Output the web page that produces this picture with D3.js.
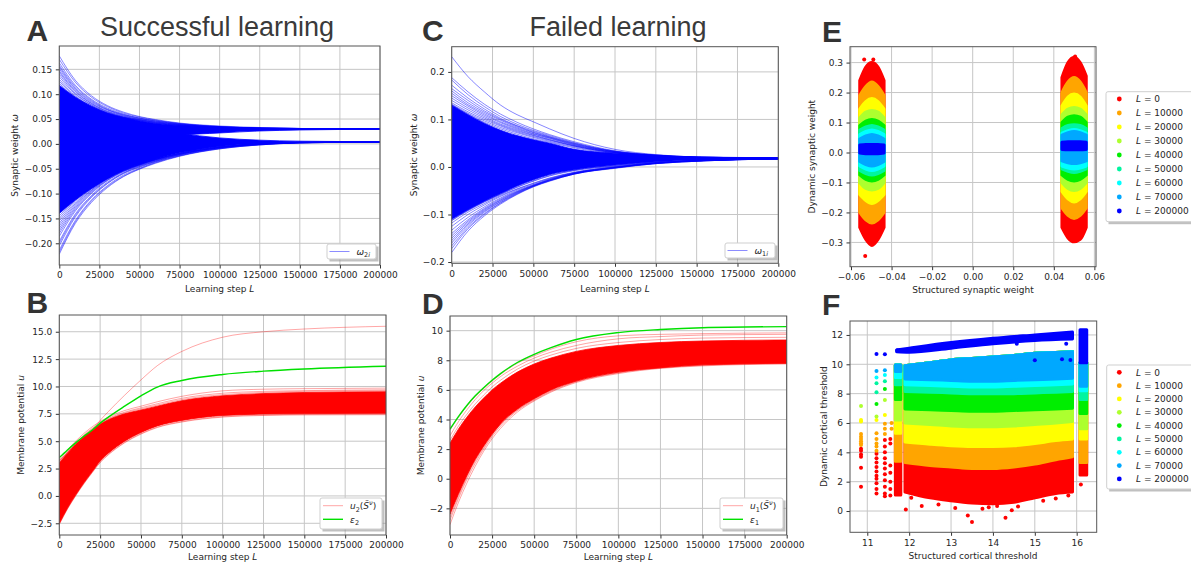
<!DOCTYPE html>
<html>
<head>
<meta charset="utf-8">
<script src="https://cdn.jsdelivr.net/npm/d3@7"></script>
<style>
body { margin: 0; background: #fff; }
svg { display: block; }
</style>
</head>
<body>
<svg id="fig" width="1191" height="562"></svg>
<script>
(function (d3) {
    'use strict';

    // ---------- data ----------
    // learning steps at which the curves were sampled
    var stepsW = [0, 10000, 20000, 30000, 40000, 50000, 60000, 75000, 100000, 125000, 150000, 200000];
    var stepsU = [0, 5000, 10000, 15000, 20000, 25000, 30000, 40000, 50000, 60000, 75000, 100000, 125000, 150000, 200000];

    // A: omega_2i, dense core (two groups) and outer fringe lines
    var wA_upperTop = [0.118, 0.094, 0.076, 0.062, 0.053, 0.046, 0.041, 0.037, 0.034, 0.032, 0.031, 0.0303];
    var wA_upperBot = [-0.1, -0.07, -0.045, -0.025, -0.01, 0.0, 0.008, 0.017, 0.022, 0.026, 0.028, 0.0295];
    var wA_lowerTop = [0.09, 0.075, 0.06, 0.048, 0.039, 0.032, 0.027, 0.021, 0.012, 0.0075, 0.0055, 0.0045];
    var wA_lowerBot = [-0.14, -0.113, -0.09, -0.07, -0.053, -0.041, -0.031, -0.018, -0.005, 0.0005, 0.0028, 0.0037];
    var wA_lines = [
        [0.177, 0.128, 0.097, 0.077, 0.064, 0.055, 0.049, 0.042, 0.036, 0.033, 0.031, 0.0303],
        [0.17, 0.124, 0.094, 0.075, 0.062, 0.054, 0.048, 0.041, 0.035, 0.032, 0.031, 0.0303],
        [0.163, 0.118, 0.09, 0.072, 0.06, 0.052, 0.047, 0.041, 0.035, 0.032, 0.031, 0.0302],
        [0.158, 0.115, 0.088, 0.07, 0.059, 0.052, 0.046, 0.04, 0.034, 0.032, 0.031, 0.0302],
        [0.155, 0.112, 0.086, 0.069, 0.058, 0.051, 0.046, 0.04, 0.034, 0.032, 0.031, 0.0302],
        [0.151, 0.11, 0.084, 0.068, 0.057, 0.05, 0.045, 0.039, 0.034, 0.031, 0.0305, 0.0302],
        [0.147, 0.107, 0.082, 0.066, 0.056, 0.049, 0.044, 0.039, 0.034, 0.031, 0.0305, 0.0302],
        [0.144, 0.105, 0.081, 0.065, 0.055, 0.049, 0.044, 0.039, 0.034, 0.031, 0.0305, 0.0302],
        [0.14, 0.102, 0.079, 0.064, 0.054, 0.048, 0.043, 0.038, 0.033, 0.031, 0.0305, 0.0302],
        [0.135, 0.1, 0.078, 0.063, 0.054, 0.048, 0.043, 0.038, 0.033, 0.031, 0.0303, 0.0302],
        [0.13, 0.097, 0.076, 0.062, 0.053, 0.047, 0.042, 0.037, 0.033, 0.031, 0.0303, 0.0302],
        [0.126, 0.095, 0.075, 0.061, 0.053, 0.047, 0.042, 0.037, 0.033, 0.031, 0.0303, 0.0302],
        [0.122, 0.093, 0.073, 0.06, 0.052, 0.046, 0.041, 0.037, 0.033, 0.031, 0.0303, 0.0302],
        [-0.222, -0.16, -0.118, -0.088, -0.066, -0.051, -0.039, -0.025, -0.01, -0.002, 0.002, 0.0038],
        [-0.218, -0.157, -0.115, -0.086, -0.065, -0.05, -0.038, -0.024, -0.01, -0.002, 0.002, 0.0038],
        [-0.214, -0.154, -0.113, -0.084, -0.063, -0.049, -0.037, -0.024, -0.009, -0.002, 0.002, 0.0038],
        [-0.205, -0.147, -0.108, -0.08, -0.06, -0.047, -0.036, -0.023, -0.009, -0.001, 0.002, 0.0038],
        [-0.2, -0.144, -0.106, -0.079, -0.059, -0.046, -0.035, -0.022, -0.008, -0.001, 0.0025, 0.0038],
        [-0.196, -0.141, -0.104, -0.077, -0.058, -0.045, -0.035, -0.022, -0.008, -0.001, 0.0025, 0.0038],
        [-0.186, -0.135, -0.1, -0.074, -0.056, -0.044, -0.034, -0.021, -0.008, -0.001, 0.0025, 0.0038],
        [-0.18, -0.132, -0.098, -0.073, -0.055, -0.043, -0.033, -0.021, -0.007, 0, 0.0025, 0.0038],
        [-0.175, -0.129, -0.096, -0.072, -0.055, -0.043, -0.033, -0.021, -0.007, 0, 0.0025, 0.0038],
        [-0.17, -0.126, -0.094, -0.071, -0.054, -0.042, -0.032, -0.02, -0.007, 0, 0.003, 0.0038],
        [-0.165, -0.123, -0.093, -0.07, -0.054, -0.042, -0.032, -0.02, -0.007, 0, 0.003, 0.0038],
        [-0.16, -0.12, -0.091, -0.069, -0.053, -0.041, -0.031, -0.019, -0.006, 0, 0.003, 0.0038],
        [-0.155, -0.117, -0.09, -0.069, -0.053, -0.041, -0.031, -0.019, -0.006, 0, 0.003, 0.0038],
        [-0.15, -0.114, -0.089, -0.068, -0.052, -0.041, -0.031, -0.019, -0.006, 0, 0.003, 0.0038],
        [-0.145, -0.112, -0.088, -0.068, -0.052, -0.041, -0.031, -0.019, -0.006, 0, 0.003, 0.0038]
    ];

    // C: omega_1i
    var wC_coreTop = [0.13, 0.11, 0.092, 0.077, 0.066, 0.057, 0.05, 0.037, 0.029, 0.024, 0.021, 0.0195];
    var wC_coreBot = [-0.11, -0.09, -0.072, -0.056, -0.04, -0.027, -0.016, -0.006, 0.004, 0.011, 0.014, 0.0165];
    var wC_lines = [
        [0.232, 0.19, 0.158, 0.13, 0.11, 0.095, 0.08, 0.06, 0.037, 0.026, 0.021, 0.0185],
        [0.188, 0.158, 0.132, 0.111, 0.094, 0.08, 0.068, 0.053, 0.034, 0.025, 0.021, 0.0185],
        [0.183, 0.152, 0.127, 0.106, 0.09, 0.077, 0.066, 0.051, 0.033, 0.025, 0.021, 0.0185],
        [0.172, 0.145, 0.122, 0.102, 0.087, 0.075, 0.064, 0.05, 0.033, 0.025, 0.021, 0.0185],
        [0.165, 0.14, 0.118, 0.1, 0.086, 0.073, 0.063, 0.049, 0.032, 0.024, 0.02, 0.0185],
        [0.16, 0.135, 0.115, 0.098, 0.084, 0.072, 0.062, 0.048, 0.032, 0.024, 0.02, 0.0185],
        [0.155, 0.131, 0.112, 0.095, 0.082, 0.07, 0.061, 0.047, 0.032, 0.024, 0.02, 0.0185],
        [0.15, 0.128, 0.109, 0.093, 0.08, 0.069, 0.06, 0.046, 0.031, 0.024, 0.02, 0.0185],
        [0.145, 0.124, 0.106, 0.09, 0.078, 0.067, 0.058, 0.045, 0.031, 0.024, 0.02, 0.0185],
        [0.14, 0.12, 0.103, 0.088, 0.076, 0.066, 0.057, 0.044, 0.03, 0.023, 0.02, 0.0185],
        [0.135, 0.116, 0.1, 0.086, 0.074, 0.064, 0.056, 0.044, 0.03, 0.023, 0.02, 0.0185],
        [0.132, 0.113, 0.097, 0.083, 0.072, 0.062, 0.054, 0.042, 0.03, 0.023, 0.02, 0.0185],
        [0.131, 0.111, 0.094, 0.08, 0.069, 0.059, 0.052, 0.04, 0.029, 0.023, 0.02, 0.0185],
        [-0.18, -0.135, -0.103, -0.078, -0.058, -0.042, -0.03, -0.015, -0.003, 0.007, 0.012, 0.017],
        [-0.172, -0.13, -0.1, -0.076, -0.057, -0.041, -0.029, -0.015, -0.002, 0.007, 0.012, 0.017],
        [-0.166, -0.127, -0.098, -0.075, -0.056, -0.041, -0.029, -0.015, -0.002, 0.007, 0.012, 0.017],
        [-0.16, -0.123, -0.095, -0.073, -0.055, -0.04, -0.028, -0.014, -0.002, 0.008, 0.013, 0.017],
        [-0.155, -0.12, -0.093, -0.072, -0.054, -0.04, -0.028, -0.014, -0.001, 0.008, 0.013, 0.017],
        [-0.15, -0.117, -0.091, -0.07, -0.053, -0.039, -0.027, -0.014, -0.001, 0.008, 0.013, 0.017],
        [-0.145, -0.114, -0.089, -0.069, -0.052, -0.039, -0.027, -0.013, -0.001, 0.008, 0.013, 0.017],
        [-0.14, -0.111, -0.087, -0.067, -0.051, -0.038, -0.026, -0.013, -0.001, 0.008, 0.013, 0.017],
        [-0.133, -0.106, -0.084, -0.065, -0.049, -0.037, -0.025, -0.012, 0, 0.009, 0.013, 0.017],
        [-0.125, -0.1, -0.08, -0.062, -0.047, -0.035, -0.024, -0.012, 0, 0.009, 0.013, 0.017],
        [-0.118, -0.095, -0.077, -0.06, -0.046, -0.034, -0.023, -0.011, 0.001, 0.009, 0.013, 0.017],
        [-0.113, -0.092, -0.074, -0.058, -0.043, -0.03, -0.019, -0.008, 0.002, 0.01, 0.013, 0.017],
        [-0.112, -0.091, -0.073, -0.057, -0.042, -0.029, -0.018, -0.007, 0.003, 0.01, 0.014, 0.017]
    ];

    // B: u_2 and epsilon_2
    var uB_coreTop = [3.0, 3.9, 4.7, 5.4, 6.0, 6.55, 6.95, 7.5, 7.85, 8.2, 8.7, 9.15, 9.35, 9.45, 9.52];
    var uB_coreBot = [-2.5, -1.1, 0.1, 1.2, 2.2, 3.2, 3.9, 5.0, 5.8, 6.4, 6.9, 7.35, 7.48, 7.52, 7.55];
    var uB_lines = [
        [3.3, 4.2, 5.0, 5.7, 6.3, 6.8, 7.2, 7.8, 8.2, 8.6, 9.1, 9.6, 9.75, 9.8, 9.85],
        [3.2, 4.05, 4.85, 5.55, 6.15, 6.68, 7.08, 7.65, 8.05, 8.42, 8.92, 9.38, 9.55, 9.62, 9.7],
        [3.1, 3.98, 4.78, 5.48, 6.08, 6.6, 7.0, 7.58, 7.95, 8.3, 8.8, 9.25, 9.45, 9.55, 9.62],
        [-2.6, -1.2, 0.0, 1.1, 2.1, 3.05, 3.75, 4.85, 5.65, 6.25, 6.75, 7.2, 7.35, 7.4, 7.42],
        [-2.55, -1.15, 0.05, 1.15, 2.15, 3.1, 3.8, 4.9, 5.7, 6.3, 6.8, 7.25, 7.4, 7.45, 7.48],
        [-2.45, -1.05, 0.15, 1.25, 2.25, 3.25, 3.95, 5.05, 5.85, 6.45, 6.95, 7.4, 7.52, 7.56, 7.6]
    ];
    var uB_outlier = [3.2, 3.95, 4.7, 5.35, 6.0, 6.9, 7.7, 9.2, 10.6, 11.9, 13.2, 14.5, 15.0, 15.25, 15.5];
    var eps2 = [3.5, 4.2, 4.85, 5.45, 6.0, 6.65, 7.2, 8.2, 9.15, 9.95, 10.55, 11.1, 11.4, 11.6, 11.85];

    // D: u_1 and epsilon_1
    var uD_coreTop = [2.4, 3.35, 4.15, 4.85, 5.45, 6.0, 6.45, 7.2, 7.75, 8.15, 8.6, 9.0, 9.2, 9.3, 9.37];
    var uD_coreBot = [-2.4, -1.05, 0.2, 1.3, 2.2, 3.0, 3.7, 4.7, 5.4, 6.0, 6.6, 7.2, 7.5, 7.7, 7.8];
    var uD_lines = [
        [3.3, 4.15, 4.9, 5.55, 6.1, 6.6, 7.05, 7.8, 8.3, 8.75, 9.25, 9.65, 9.75, 9.8, 9.85],
        [2.9, 3.85, 4.65, 5.35, 5.95, 6.45, 6.9, 7.6, 8.15, 8.55, 9.0, 9.45, 9.6, 9.7, 9.75],
        [2.6, 3.55, 4.35, 5.05, 5.65, 6.2, 6.65, 7.4, 7.95, 8.35, 8.8, 9.2, 9.4, 9.5, 9.55],
        [-3.1, -1.6, -0.3, 0.85, 1.85, 2.7, 3.4, 4.5, 5.25, 5.85, 6.5, 7.1, 7.45, 7.62, 7.75],
        [-2.8, -1.35, -0.05, 1.05, 2.0, 2.85, 3.55, 4.6, 5.3, 5.9, 6.55, 7.15, 7.48, 7.66, 7.78],
        [-2.6, -1.2, 0.1, 1.2, 2.1, 2.95, 3.65, 4.65, 5.35, 5.95, 6.58, 7.18, 7.5, 7.68, 7.8]
    ];
    var eps1 = [3.35, 4.2, 4.95, 5.6, 6.15, 6.65, 7.1, 7.85, 8.4, 8.85, 9.4, 9.87, 10.08, 10.2, 10.27];

    // E / F: snapshot layers
    var layerSteps = [0, 10000, 20000, 30000, 40000, 50000, 60000, 70000, 200000];
    var layerColors = ['#ff0000', '#ffa500', '#ffff00', '#adff2f', '#00ee00', '#00f5a0', '#00ffff', '#00a8ff', '#0000ff'];

    // E: clusters at +-0.05 structured weight, edges sampled across the cluster width
    var eDx = [-0.006, -0.003, 0, 0.003, 0.006];
    var eLeftCenter = -0.0497, eRightCenter = 0.05;
    var eLeftTop = [
        [0.24, 0.285, 0.3, 0.285, 0.24], [0.19, 0.22, 0.235, 0.22, 0.19], [0.145, 0.17, 0.18, 0.17, 0.145],
        [0.115, 0.135, 0.14, 0.135, 0.115], [0.09, 0.105, 0.11, 0.105, 0.09], [0.075, 0.085, 0.09, 0.085, 0.075],
        [0.06, 0.07, 0.075, 0.07, 0.06], [0.045, 0.055, 0.06, 0.055, 0.045], [0.025, 0.027, 0.027, 0.027, 0.025]
    ];
    var eLeftBot = [
        [-0.25, -0.29, -0.31, -0.29, -0.25], [-0.2, -0.225, -0.235, -0.225, -0.2], [-0.14, -0.16, -0.17, -0.16, -0.14],
        [-0.1, -0.12, -0.125, -0.12, -0.1], [-0.075, -0.09, -0.095, -0.09, -0.075], [-0.06, -0.07, -0.075, -0.07, -0.06],
        [-0.045, -0.055, -0.06, -0.055, -0.045], [-0.03, -0.04, -0.045, -0.04, -0.03], [-0.002, -0.004, -0.004, -0.004, -0.002]
    ];
    var eRightTop = [
        [0.25, 0.3, 0.318, 0.3, 0.255], [0.2, 0.235, 0.25, 0.235, 0.2], [0.155, 0.185, 0.195, 0.185, 0.155],
        [0.125, 0.145, 0.15, 0.145, 0.125], [0.1, 0.118, 0.123, 0.118, 0.1], [0.08, 0.09, 0.093, 0.09, 0.08],
        [0.065, 0.073, 0.077, 0.073, 0.065], [0.058, 0.066, 0.07, 0.066, 0.058], [0.034, 0.036, 0.036, 0.036, 0.034]
    ];
    var eRightBot = [
        [-0.25, -0.285, -0.298, -0.29, -0.25], [-0.185, -0.21, -0.22, -0.21, -0.185], [-0.13, -0.155, -0.165, -0.155, -0.13],
        [-0.1, -0.12, -0.127, -0.12, -0.1], [-0.075, -0.09, -0.095, -0.09, -0.075], [-0.055, -0.063, -0.067, -0.063, -0.055],
        [-0.045, -0.052, -0.055, -0.052, -0.045], [-0.028, -0.034, -0.037, -0.034, -0.028], [0.01, 0.009, 0.009, 0.009, 0.01]
    ];
    var eOutliers = [[-0.053, -0.345, 0], [-0.0535, 0.31, 0], [-0.049, 0.31, 0], [0.0505, 0.32, 0]];

    // F: main block, edges sampled along the structured threshold
    var fMainX = [11.9, 12.5, 13, 13.5, 14, 14.5, 15, 15.5, 15.9];
    var fMainBot = [
        [1.3, 0.9, 0.7, 0.55, 0.5, 0.6, 0.9, 1.2, 1.3],
        [3.3, 3.1, 3.0, 2.9, 2.9, 3.0, 3.2, 3.5, 3.7],
        [4.7, 4.55, 4.45, 4.4, 4.4, 4.45, 4.6, 4.8, 4.9],
        [6.0, 5.9, 5.8, 5.75, 5.75, 5.8, 5.9, 6.0, 6.1],
        [6.95, 6.9, 6.85, 6.8, 6.8, 6.85, 6.9, 6.95, 7.0],
        [8.15, 8.1, 8.05, 8.0, 8.0, 8.0, 8.05, 8.1, 8.15],
        [8.6, 8.55, 8.5, 8.45, 8.45, 8.5, 8.55, 8.6, 8.65],
        [9.0, 8.95, 8.9, 8.85, 8.85, 8.9, 8.95, 9.0, 9.05]
    ];
    var fMainTop = [9.9, 10.1, 10.3, 10.4, 10.5, 10.6, 10.75, 10.8, 10.85];
    var fBlueX = [11.7, 12, 13, 14, 15, 15.9];
    var fBlueTop = [10.98, 11.1, 11.48, 11.77, 12.0, 12.2];
    var fBlueBot = [10.85, 10.82, 11.1, 11.4, 11.62, 11.72];
    var fRightX = [16.08, 16.24];
    var fRightBot = [2.45, 3.3, 4.9, 5.6, 6.65, 7.6, 8.2, 8.5];
    var fRightTop = 10.1;
    var fRightBlue = [10.1, 12.35];
    var fColX = [11.67, 11.8];
    var fColBot = [1.1, 3.4, 5.3, 6.2, 7.6, 8.6, 9.1, 9.5];
    var fColTop = 9.95;
    var fPoints = [
        [10.85, 1.66, 0], [10.85, 2.95, 0], [10.85, 3.7, 0], [10.85, 3.85, 0], [10.85, 4.1, 0], [10.85, 4.25, 0],
        [10.85, 4.5, 1], [10.85, 4.62, 1], [10.85, 4.75, 1], [10.85, 4.9, 1], [10.85, 5.06, 1], [10.85, 5.25, 1],
        [10.85, 6.1, 2], [10.85, 6.2, 2], [10.85, 7.16, 3],
        [11.22, 1.2, 0], [11.22, 1.5, 0], [11.22, 1.9, 0], [11.22, 2.2, 0], [11.22, 2.4, 0], [11.22, 2.7, 0],
        [11.22, 3.0, 0], [11.22, 3.3, 0], [11.22, 3.6, 0], [11.22, 3.9, 0], [11.22, 4.1, 1], [11.22, 4.4, 1],
        [11.22, 4.6, 1], [11.22, 4.9, 1], [11.22, 5.3, 1], [11.22, 6.2, 2], [11.22, 6.45, 3], [11.22, 7.3, 4],
        [11.22, 8.1, 5], [11.22, 8.7, 5], [11.22, 9.1, 6], [11.22, 9.55, 7], [11.22, 10.7, 8],
        [11.42, 1.0, 0], [11.42, 1.2, 0], [11.42, 1.65, 0], [11.42, 2.1, 0], [11.42, 2.5, 0], [11.42, 2.9, 0],
        [11.42, 3.25, 0], [11.42, 3.6, 0], [11.42, 4.0, 0], [11.42, 4.4, 0], [11.42, 4.84, 0], [11.42, 5.25, 1],
        [11.42, 5.6, 1], [11.42, 5.95, 1], [11.42, 6.55, 2], [11.42, 7.57, 3], [11.42, 8.32, 4], [11.42, 8.85, 5],
        [11.42, 9.27, 6], [11.42, 9.6, 7], [11.42, 10.68, 8],
        [11.55, 1.05, 0], [11.55, 1.5, 0], [11.55, 2.0, 0], [11.55, 2.6, 0], [11.55, 3.1, 0], [11.55, 4.6, 0],
        [11.55, 4.9, 0], [11.58, 5.6, 1], [11.58, 6.0, 1], [11.72, 10.95, 8], [11.78, 10.97, 8],
        [11.92, 0.1, 0], [12.05, 0.9, 0], [12.3, 0.35, 0], [12.7, 0.45, 0], [13.1, 0.2, 0], [13.4, -0.3, 0],
        [13.5, -0.75, 0], [13.75, 0.15, 0], [13.9, 0.25, 0], [14.1, 0.35, 0], [14.3, -0.45, 0], [14.45, 0.05, 0],
        [14.6, 0.3, 0], [15.2, 0.7, 0], [15.5, 0.85, 0], [15.8, 1.05, 0], [16.1, 1.8, 0],
        [14.57, 11.4, 8], [15.0, 10.28, 8], [15.65, 10.35, 8], [15.85, 10.3, 8], [15.75, 11.4, 8], [15.3, 11.8, 8]
    ];

    // ticks
    var xTicksL = [0, 25000, 50000, 75000, 100000, 125000, 150000, 175000, 200000];
    var yTicksA = [-0.2, -0.15, -0.1, -0.05, 0, 0.05, 0.1, 0.15];
    var yTicksB = [-2.5, 0, 2.5, 5, 7.5, 10, 12.5, 15];
    var yTicksC = [-0.2, -0.1, 0, 0.1, 0.2];
    var yTicksD = [-2, 0, 2, 4, 6, 8, 10];
    var xTicksE = [-0.06, -0.04, -0.02, 0, 0.02, 0.04, 0.06];
    var yTicksE = [-0.3, -0.2, -0.1, 0, 0.1, 0.2, 0.3];
    var xTicksF = [11, 12, 13, 14, 15, 16];
    var yTicksF = [0, 2, 4, 6, 8, 10, 12];

    // ---------- drawing ----------
    var FONT = 'DejaVu Sans, Verdana, sans-serif';
    var svg = d3.select('#fig');
    var defs = svg.append('defs');

    function rich(text, parts, size) {
        var shift = 0;
        parts.forEach(function (p) {
            var t = text.append('tspan').text(p.t);
            var target = p.sub ? 2.6 : (p.sup ? -3.6 : 0);
            if (target !== shift) {
                t.attr('dy', target - shift);
                shift = target;
            }
            if (p.i) { t.attr('font-style', 'italic'); }
            if (p.sub || p.sup) { t.attr('font-size', size * 0.72); }
        });
    }

    function makePanel(id, box, xDom, yDom, xTicks, yTicks, xFmt, yFmt) {
        var x = d3.scaleLinear().domain(xDom).range([box.l, box.r]);
        var y = d3.scaleLinear().domain(yDom).range([box.b, box.t]);
        var root = svg.append('g');
        var grid = root.append('g').attr('stroke', '#c6c6c6').attr('stroke-width', 1);
        grid.selectAll('.gx').data(xTicks).join('line').attr('class', 'gx')
            .attr('x1', x).attr('x2', x).attr('y1', box.t).attr('y2', box.b);
        grid.selectAll('.gy').data(yTicks).join('line').attr('class', 'gy')
            .attr('y1', y).attr('y2', y).attr('x1', box.l).attr('x2', box.r);

        defs.append('clipPath').attr('id', 'clip-' + id).append('rect')
            .attr('x', box.l).attr('y', box.t).attr('width', box.r - box.l).attr('height', box.b - box.t);
        var plot = root.append('g').attr('clip-path', 'url(#clip-' + id + ')');

        var ax = root.append('g');
        ax.append('g').attr('transform', 'translate(0,' + box.b + ')')
            .call(d3.axisBottom(x).tickValues(xTicks).tickFormat(xFmt).tickSize(3.5).tickPadding(3.5));
        ax.append('g').attr('transform', 'translate(' + box.l + ',0)')
            .call(d3.axisLeft(y).tickValues(yTicks).tickFormat(yFmt).tickSize(3.5).tickPadding(3.5));
        ax.selectAll('.domain').remove();
        ax.selectAll('text').attr('font-family', FONT).attr('font-size', 9).attr('fill', '#262626');
        ax.selectAll('.tick line').attr('stroke', '#333');
        ax.append('rect').attr('x', box.l).attr('y', box.t)
            .attr('width', box.r - box.l).attr('height', box.b - box.t)
            .attr('fill', 'none').attr('stroke', '#555').attr('stroke-width', 1);
        var over = root.append('g');
        return { x: x, y: y, plot: plot, over: over, box: box };
    }

    function xLabel(p, cx, by, parts) {
        var t = p.over.append('text').attr('x', cx).attr('y', by).attr('text-anchor', 'middle')
            .attr('font-family', FONT).attr('font-size', 9).attr('fill', '#262626');
        rich(t, parts, 9);
    }

    function yLabel(p, cx, parts) {
        var cy = (p.box.t + p.box.b) / 2;
        var t = p.over.append('text').attr('transform', 'translate(' + (cx + 3.2) + ',' + cy + ') rotate(-90)')
            .attr('text-anchor', 'middle').attr('font-family', FONT).attr('font-size', 9).attr('fill', '#262626');
        rich(t, parts, 9);
    }

    function letter(x0, y0, s) {
        svg.append('text').attr('x', x0).attr('y', y0).text(s)
            .attr('font-family', 'Liberation Sans, Arial, sans-serif').attr('font-weight', 'bold')
            .attr('font-size', 30).attr('fill', '#333');
    }

    function title(cx, y0, s) {
        svg.append('text').attr('x', cx).attr('y', y0).text(s).attr('text-anchor', 'middle')
            .attr('font-family', 'Liberation Sans, Arial, sans-serif').attr('font-size', 27).attr('fill', '#3a3a3a');
    }

    function legendBox(g, x0, y0, w, h) {
        g.append('rect').attr('x', x0 + 2.5).attr('y', y0 + 2.5).attr('width', w).attr('height', h)
            .attr('fill', '#8c8c8c').attr('opacity', 0.55);
        g.append('rect').attr('x', x0).attr('y', y0).attr('width', w).attr('height', h).attr('rx', 2)
            .attr('fill', '#fff').attr('stroke', '#cfcfcf').attr('stroke-width', 1);
    }

    function legendLine(g, x0, y0, color, opacity, width, parts) {
        g.append('line').attr('x1', x0).attr('x2', x0 + 20).attr('y1', y0).attr('y2', y0)
            .attr('stroke', color).attr('stroke-opacity', opacity).attr('stroke-width', width);
        var t = g.append('text').attr('x', x0 + 27).attr('y', y0 + 3.2)
            .attr('font-family', FONT).attr('font-size', 9).attr('fill', '#262626');
        rich(t, parts, 9);
    }

    function bandPlot(p, steps, top, bot, color) {
        var area = d3.area().curve(d3.curveMonotoneX)
            .x(function (d, i) { return p.x(steps[i]); })
            .y0(function (d, i) { return p.y(bot[i]); })
            .y1(function (d, i) { return p.y(top[i]); });
        p.plot.append('path').datum(top).attr('d', area).attr('fill', color)
            .attr('stroke', color).attr('stroke-width', 0.8);
    }

    function linesPlot(p, steps, series, color, opacity, width) {
        var line = d3.line().curve(d3.curveMonotoneX)
            .x(function (d, i) { return p.x(steps[i]); })
            .y(function (d) { return p.y(d); });
        p.plot.append('g').selectAll('path').data(series).join('path')
            .attr('d', line).attr('fill', 'none').attr('stroke', color)
            .attr('stroke-opacity', opacity).attr('stroke-width', width);
    }

    var fmtInt = d3.format('d');
    var boxA = { l: 59.3, r: 380, t: 46, b: 265 };
    var boxB = { l: 59.3, r: 386, t: 315, b: 535 };
    var boxC = { l: 451.7, r: 778.3, t: 46.7, b: 263.3 };
    var boxD = { l: 450, r: 786.7, t: 316, b: 535 };
    var boxE = { l: 850, r: 1096, t: 46.7, b: 266.7 };
    var boxF = { l: 850, r: 1096.7, t: 321, b: 532.3 };
    var stepLabel = [{ t: 'Learning step ' }, { t: 'L', i: true }];

    // ----- A -----
    var pA = makePanel('A', boxA, [0, 200000], [-0.2437, 0.197], xTicksL, yTicksA, fmtInt, d3.format('.2f'));
    bandPlot(pA, stepsW, wA_upperTop, wA_upperBot, '#0000ff');
    bandPlot(pA, stepsW, wA_lowerTop, wA_lowerBot, '#0000ff');
    linesPlot(pA, stepsW, wA_lines, '#0000ff', 0.6, 0.8);
    xLabel(pA, (boxA.l + boxA.r) / 2, 291.5, stepLabel);
    yLabel(pA, 15, [{ t: 'Synaptic weight ' }, { t: 'ω', i: true }]);
    legendBox(pA.over, 327, 244, 49, 15);
    legendLine(pA.over, 329.5, 251.5, '#0000ff', 0.45, 1,
        [{ t: 'ω', i: true }, { t: '2', sub: true }, { t: 'i', sub: true, i: true }]);

    // ----- B -----
    var pB = makePanel('B', boxB, [0, 200000], [-3.57, 16.53], xTicksL, yTicksB, fmtInt, d3.format('.1f'));
    bandPlot(pB, stepsU, uB_coreTop, uB_coreBot, '#ff0000');
    linesPlot(pB, stepsU, uB_lines, '#ff0000', 0.45, 0.8);
    linesPlot(pB, stepsU, [uB_outlier], '#ff0000', 0.35, 1);
    linesPlot(pB, stepsU, [eps2], '#00e000', 1, 1.4);
    xLabel(pB, (boxB.l + boxB.r) / 2, 560, stepLabel);
    yLabel(pB, 20.8, [{ t: 'Membrane potential ' }, { t: 'u', i: true }]);
    legendBox(pB.over, 320, 498, 62, 31);
    legendLine(pB.over, 323, 505.7, '#ff0000', 0.35, 1,
        [{ t: 'u', i: true }, { t: '2', sub: true }, { t: '(' }, { t: 'S\u0303', i: true }, { t: 'ν', sup: true, i: true }, { t: ')' }]);
    legendLine(pB.over, 323, 519.3, '#00e000', 1, 1.4, [{ t: 'ε', i: true }, { t: '2', sub: true }]);

    // ----- C -----
    var pC = makePanel('C', boxC, [0, 200000], [-0.2027, 0.253], xTicksL, yTicksC, fmtInt, d3.format('.1f'));
    bandPlot(pC, stepsW, wC_coreTop, wC_coreBot, '#0000ff');
    linesPlot(pC, stepsW, wC_lines, '#0000ff', 0.6, 0.8);
    xLabel(pC, (boxC.l + boxC.r) / 2, 291.5, stepLabel);
    yLabel(pC, 413.3, [{ t: 'Synaptic weight ' }, { t: 'ω', i: true }]);
    legendBox(pC.over, 725, 243, 50, 15);
    legendLine(pC.over, 727.5, 250.5, '#0000ff', 0.45, 1,
        [{ t: 'ω', i: true }, { t: '1', sub: true }, { t: 'i', sub: true, i: true }]);

    // ----- D -----
    var pD = makePanel('D', boxD, [0, 200000], [-3.8, 10.99], xTicksL, yTicksD, fmtInt, d3.format('d'));
    bandPlot(pD, stepsU, uD_coreTop, uD_coreBot, '#ff0000');
    linesPlot(pD, stepsU, uD_lines, '#ff0000', 0.45, 0.8);
    linesPlot(pD, stepsU, [eps1], '#00e000', 1, 1.4);
    xLabel(pD, (boxD.l + boxD.r) / 2, 560, stepLabel);
    yLabel(pD, 421, [{ t: 'Membrane potential ' }, { t: 'u', i: true }]);
    legendBox(pD.over, 720, 498, 63, 31);
    legendLine(pD.over, 723, 505.7, '#ff0000', 0.35, 1,
        [{ t: 'u', i: true }, { t: '1', sub: true }, { t: '(' }, { t: 'S\u0303', i: true }, { t: 'ν', sup: true, i: true }, { t: ')' }]);
    legendLine(pD.over, 723, 519.3, '#00e000', 1, 1.4, [{ t: 'ε', i: true }, { t: '1', sub: true }]);

    // ----- E -----
    var pE = makePanel('E', boxE, [-0.0605, 0.0608], [-0.381, 0.353], xTicksE, yTicksE, d3.format('.2f'), d3.format('.1f'));
    function cluster(center, tops, bots) {
        tops.forEach(function (top, k) {
            var bot = bots[k];
            var area = d3.area().curve(d3.curveMonotoneX)
                .x(function (d, i) { return pE.x(center + eDx[i]); })
                .y0(function (d, i) { return pE.y(bot[i]); })
                .y1(function (d, i) { return pE.y(top[i]); });
            pE.plot.append('path').datum(top).attr('d', area)
                .attr('fill', layerColors[k]).attr('stroke', layerColors[k])
                .attr('stroke-width', 3).attr('stroke-linejoin', 'round');
        });
    }
    cluster(eLeftCenter, eLeftTop, eLeftBot);
    cluster(eRightCenter, eRightTop, eRightBot);
    pE.plot.selectAll('.out').data(eOutliers).join('circle').attr('class', 'out')
        .attr('cx', function (d) { return pE.x(d[0]); }).attr('cy', function (d) { return pE.y(d[1]); })
        .attr('r', 2).attr('fill', function (d) { return layerColors[d[2]]; });
    xLabel(pE, 973, 293, [{ t: 'Structured synaptic weight' }]);
    yLabel(pE, 811.7, [{ t: 'Dynamic synaptic weight' }]);

    // ----- F -----
    var pF = makePanel('F', boxF, [10.587, 16.478], [-1.45, 12.95], xTicksF, yTicksF, fmtInt, fmtInt);
    function block(xs, bots, tops, k) {
        var area = d3.area().curve(d3.curveMonotoneX)
            .x(function (d, i) { return pF.x(xs[i]); })
            .y0(function (d, i) { return pF.y(bots[i]); })
            .y1(function (d, i) { return pF.y(tops[i]); });
        pF.plot.append('path').datum(xs).attr('d', area)
            .attr('fill', layerColors[k]).attr('stroke', layerColors[k])
            .attr('stroke-width', 3).attr('stroke-linejoin', 'round');
    }
    fMainBot.forEach(function (bot, k) { block(fMainX, bot, fMainTop, k); });
    fColBot.forEach(function (b, k) { block(fColX, [b, b], [fColTop, fColTop], k); });
    fRightBot.forEach(function (b, k) { block(fRightX, [b, b], [fRightTop, fRightTop], k); });
    block(fBlueX, fBlueBot, fBlueTop, 8);
    block(fRightX, [fRightBlue[0], fRightBlue[0]], [fRightBlue[1], fRightBlue[1]], 8);
    pF.plot.selectAll('.pt').data(fPoints).join('circle').attr('class', 'pt')
        .attr('cx', function (d) { return pF.x(d[0]); }).attr('cy', function (d) { return pF.y(d[1]); })
        .attr('r', 2).attr('fill', function (d) { return layerColors[d[2]]; });
    xLabel(pF, 973, 558.5, [{ t: 'Structured cortical threshold' }]);
    yLabel(pF, 824, [{ t: 'Dynamic cortical threshold' }]);

    // legends E and F
    function layerLegend(p, x0, y0, h, y1, dy) {
        legendBox(p.over, x0, y0, 92, h);
        var g = p.over.selectAll('.li').data(layerSteps).join('g').attr('class', 'li')
            .attr('transform', function (d, i) { return 'translate(0,' + (y1 + i * dy) + ')'; });
        g.append('circle').attr('cx', 1119.3).attr('cy', 0).attr('r', 2.4)
            .attr('fill', function (d, i) { return layerColors[i]; });
        g.each(function (d) {
            var t = d3.select(this).append('text').attr('x', 1136).attr('y', 3.2)
                .attr('font-family', FONT).attr('font-size', 9).attr('fill', '#262626');
            rich(t, [{ t: 'L', i: true }, { t: ' = ' + d }], 9);
        });
    }
    layerLegend(pE, 1106, 91.7, 130, 99, 14);
    layerLegend(pF, 1106.7, 365, 124, 372.3, 13.33);

    // titles and panel letters
    title(217, 35.7, 'Successful learning');
    title(618, 35.7, 'Failed learning');
    letter(26.5, 40.7, 'A');
    letter(26.5, 313.3, 'B');
    letter(422, 40.7, 'C');
    letter(422, 314.3, 'D');
    letter(822, 41.7, 'E');
    letter(822, 315, 'F');
}(window.d3));
</script>
</body>
</html>
